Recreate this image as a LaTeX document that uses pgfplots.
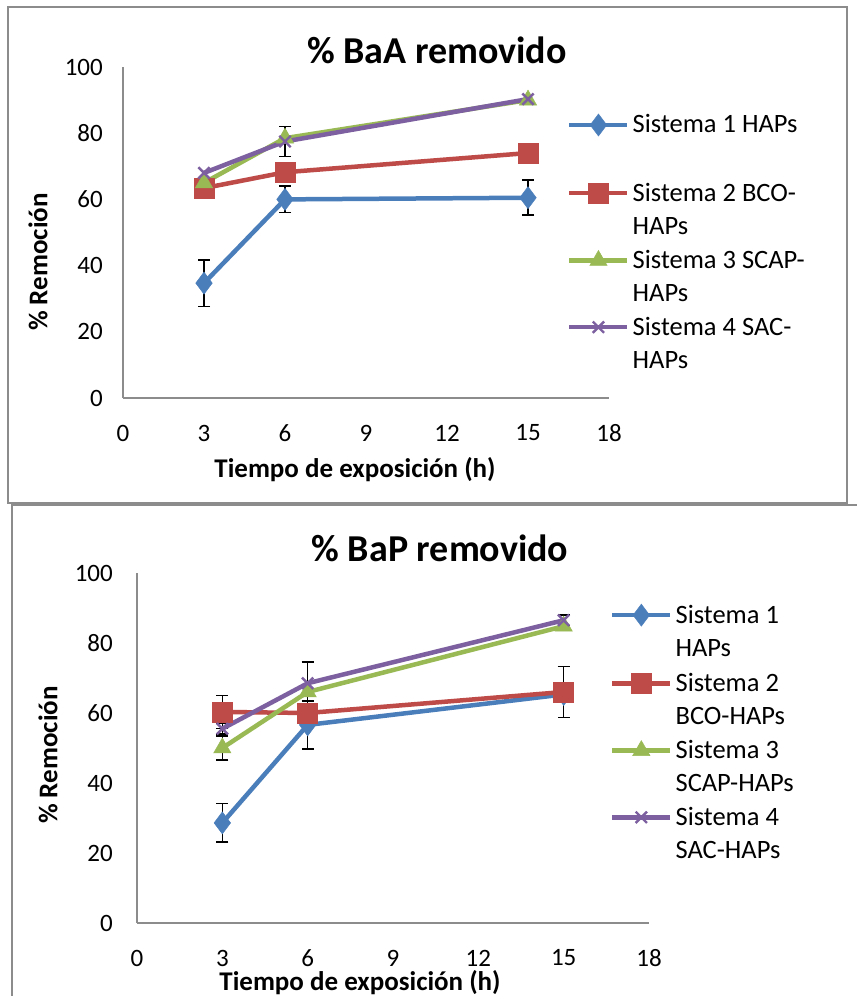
\documentclass[border=0pt]{standalone}
\usepackage{fontspec}
\setmainfont{Carlito}
\usepackage{pgfplots}
\pgfplotsset{compat=1.18}
\definecolor{c1}{HTML}{4A7EBB}
\definecolor{c2}{HTML}{BE4B48}
\definecolor{c3}{HTML}{98B954}
\definecolor{c4}{HTML}{7D60A0}
\definecolor{frame}{HTML}{8C8C8C}
\definecolor{axl}{HTML}{8C8C8C}
\pgfplotsset{
  common/.style={
    scale only axis, xmin=0, xmax=18, ymin=0, ymax=100,
    xtick={0,3,...,18}, ytick={0,20,...,100},
    axis lines=left, axis line style={-, draw=axl, line width=1.5bp},
    major tick length=0pt,
    /pgf/number format/assume math mode=true,
    ticklabel style={font=\fontsize{25bp}{30bp}\selectfont, inner sep=0pt},
    xticklabel style={anchor=center, yshift=-35bp},
    clip=false,
    legend image code/.code={\draw[mark repeat=2,mark phase=2,##1] plot coordinates {(0bp,8bp)(29bp,8bp)(58bp,8bp)};},
  },
  ebar/.style={draw=none, mark=none, forget plot,
    error bars/.cd, y dir=both, y explicit,
    error bar style={black, line width=1.6bp},
    error mark options={rotate=90, mark size=6bp, black, line width=1.6bp}},
  s1/.style={c1, line width=4.5bp, mark=diamond*, mark size=11bp, mark options={fill=c1, draw=c1, line width=0.5bp}},
  s2/.style={c2, line width=4.5bp, mark=square*, mark size=10bp, mark options={fill=c2, draw=c2, line width=0.5bp}},
  s3/.style={c3, line width=4.5bp, mark=triangle*, mark size=10bp, mark options={fill=c3, draw=c3, line width=0.5bp}},
  s4/.style={c4, line width=4.5bp, mark=x, mark size=8bp, mark options={draw=c4, line width=2.4bp}},
  leg/.style={draw=none, fill=none,
    inner sep=0pt, outer sep=0pt, row sep=47bp, column sep=3bp,
    font=\fontsize{26.5bp}{33bp}\selectfont, cells={anchor=base west}, nodes={inner sep=0pt}},
}
\begin{document}
\begin{tikzpicture}
\useasboundingbox (0,0) rectangle (857bp,996bp);
% frames
\draw[frame, line width=2bp] (8bp,989bp) rectangle (847bp,493bp);
\draw[frame, line width=2bp] (12bp,-5bp) -- (12bp,491bp) -- (870bp,491bp);

% ---------- top chart ----------
\begin{axis}[common, width=486bp, height=331bp, at={(123bp,598bp)}, anchor=south west,
  yticklabel style={anchor=east, xshift=-20bp},
  legend style={leg, at={(axis description cs:0.914,0.858)}, anchor=north west}]
\addplot[ebar] coordinates {(3,34.7) +- (0,7) (6,60) +- (0,4) (15,60.5) +- (0,5.3)};
\addplot[ebar] coordinates {(6,77.5) +- (0,4.5)};
\addplot[s1] coordinates {(3,34.7) (6,60) (15,60.5)};
\addlegendentry{\parbox[t]{220bp}{\raggedright Sistema 1 HAPs}}
\addplot[s2] coordinates {(3,63.4) (6,68.2) (15,74)};
\addlegendentry{\parbox[t]{220bp}{\raggedright Sistema 2 BCO-\\HAPs}}
\addplot[s3] coordinates {(3,65) (6,78.5) (15,90)};
\addlegendentry{\parbox[t]{220bp}{\raggedright Sistema 3 SCAP-\\HAPs}}
\addplot[s4] coordinates {(3,68) (6,77.5) (15,90.3)};
\addlegendentry{\parbox[t]{220bp}{\raggedright Sistema 4 SAC-\\HAPs}}
\end{axis}
\node[font=\bfseries\fontsize{38bp}{42bp}\selectfont] at (437bp,946bp) {\% BaA removido};
\node[font=\bfseries\fontsize{27bp}{30bp}\selectfont] at (355bp,526bp) {Tiempo de exposición (h)};
\node[font=\bfseries\fontsize{27bp}{30bp}\selectfont, rotate=90] at (38bp,734bp) {\% Remoción};

% ---------- bottom chart ----------
\begin{axis}[common, width=512bp, height=350bp, at={(137bp,73bp)}, anchor=south west,
  yticklabel style={anchor=east, xshift=-24bp},
  legend style={leg, at={(axis description cs:0.924,0.911)}, anchor=north west}]
\addplot[ebar] coordinates {(3,28.6) +- (0,5.5) (6,56.6) +- (0,6.9)};
\addplot[ebar] coordinates {(3,60.3) +- (0,4.7) (15,66) +- (0,7.3)};
\addplot[ebar] coordinates {(3,50) +- (0,3.5)};
\addplot[ebar] coordinates {(3,55.5) +- (0,1.5) (6,68.5) +- (0,6.1) (15,86.5) +- (0,1.5)};
\addplot[s1] coordinates {(3,28.6) (6,56.6) (15,65.3)};
\addlegendentry{\parbox[t]{220bp}{\raggedright Sistema 1\\HAPs}}
\addplot[s2] coordinates {(3,60.3) (6,60) (15,66)};
\addlegendentry{\parbox[t]{220bp}{\raggedright Sistema 2\\BCO-HAPs}}
\addplot[s3] coordinates {(3,50) (6,66) (15,84.8)};
\addlegendentry{\parbox[t]{220bp}{\raggedright Sistema 3\\SCAP-HAPs}}
\addplot[s4] coordinates {(3,55.5) (6,68.5) (15,86.5)};
\addlegendentry{\parbox[t]{220bp}{\raggedright Sistema 4\\SAC-HAPs}}
\end{axis}
\node[font=\bfseries\fontsize{38bp}{42bp}\selectfont] at (440bp,448bp) {\% BaP removido};
\node[font=\bfseries\fontsize{27bp}{30bp}\selectfont] at (360bp,13bp) {Tiempo de exposición (h)};
\node[font=\bfseries\fontsize{27bp}{30bp}\selectfont, rotate=90] at (48bp,241bp) {\% Remoción};
\end{tikzpicture}
\end{document}
